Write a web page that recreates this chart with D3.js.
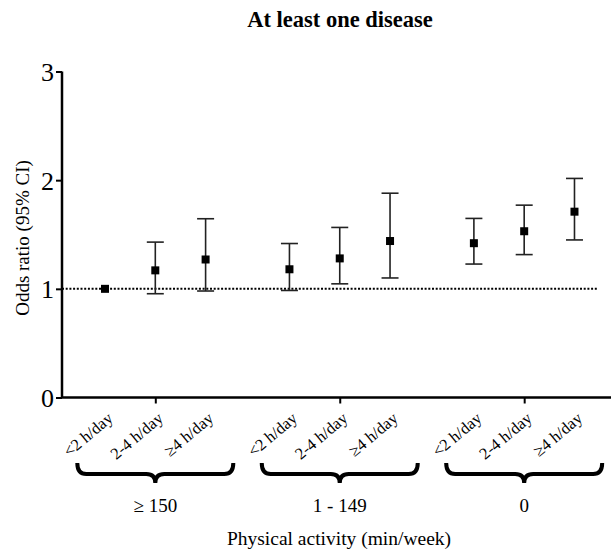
<!DOCTYPE html>
<html>
<head>
<meta charset="utf-8">
<script src="https://cdn.jsdelivr.net/npm/d3@7"></script>
<style>
  html, body { margin: 0; padding: 0; background: #fff; }
  svg { display: block; font-family: "Liberation Serif", "Times New Roman", serif; }
</style>
</head>
<body>
<div id="chart"></div>
<script>
// ---- data ----
const groups = ["≥ 150", "1 - 149", "0"];
const screenTime = ["<2 h/day", "2-4 h/day", "≥4 h/day"];
const oddsRatio = [1.00, 1.17, 1.27, 1.18, 1.28, 1.44, 1.42, 1.53, 1.71];
const ciLower   = [null, 0.955, 0.98, 0.985, 1.046, 1.10, 1.228, 1.315, 1.45];
const ciUpper   = [null, 1.43, 1.645, 1.417, 1.565, 1.88, 1.648, 1.77, 2.016];
const yTicks = [0, 1, 2, 3];
const referenceValue = 1;
const title = "At least one disease";
const yTitle = "Odds ratio (95% CI)";
const xTitle = "Physical activity (min/week)";

// ---- layout ----
const W = 611, H = 552;
const groupStep = 3.667; // slot units between groups
const svg = d3.select("#chart").append("svg").attr("width", W).attr("height", H);

const y = d3.scaleLinear().domain([0, 3]).range([397.5, 71.5]);
const x = d3.scaleLinear().domain([-0.855, 10.06]).range([62, 611]);

const pts = oddsRatio.map((v, k) => {
  const g = Math.floor(k / 3), i = k % 3;
  return { g, i, slot: g * groupStep + i, v, lo: ciLower[k], hi: ciUpper[k], label: screenTime[i] };
});

// title
svg.append("text").attr("x", 340).attr("y", 27).attr("text-anchor", "middle")
  .attr("font-weight", "bold").attr("font-size", 22.5).text(title);

// reference dotted line
svg.append("line")
  .attr("x1", x(-0.855)).attr("x2", x(9.78))
  .attr("y1", y(referenceValue)).attr("y2", y(referenceValue))
  .attr("stroke", "#000").attr("stroke-width", 2).attr("stroke-dasharray", "2,1.7");

// y axis
const yAxis = svg.append("g").attr("transform", `translate(${x(-0.855)},0)`)
  .call(d3.axisLeft(y).tickValues(yTicks).tickFormat(d3.format("d")).tickSize(6).tickPadding(2));
yAxis.select(".domain").attr("stroke-width", 2.5).attr("d", `M0,${y(3)}V${y(0)}`);
yAxis.selectAll(".tick line").attr("stroke-width", 2);
yAxis.selectAll(".tick text").attr("font-size", 26).attr("font-family", "Liberation Serif").attr("fill", "#000").attr("dy", "0.35em");

// x axis
const xAxis = svg.append("g").attr("transform", `translate(0,${y(0)})`)
  .call(d3.axisBottom(x).tickValues(groups.map((d, g) => g * groupStep + 1)).tickFormat("").tickSize(6));
xAxis.select(".domain").attr("stroke-width", 2.5).attr("d", `M${x(-0.855)},0H${W}`);
xAxis.selectAll(".tick line").attr("stroke-width", 2);

// error bars
const eb = svg.append("g").selectAll("g").data(pts.filter(d => d.lo != null)).join("g");
eb.append("line").attr("x1", d => x(d.slot)).attr("x2", d => x(d.slot))
  .attr("y1", d => y(d.lo)).attr("y2", d => y(d.hi)).attr("stroke", "#222").attr("stroke-width", 1.6);
[["lo"], ["hi"]].forEach(([k]) => {
  eb.append("line").attr("x1", d => x(d.slot) - 8.5).attr("x2", d => x(d.slot) + 8.5)
    .attr("y1", d => y(d[k])).attr("y2", d => y(d[k])).attr("stroke", "#222").attr("stroke-width", 1.6);
});

// markers
svg.append("g").selectAll("rect").data(pts).join("rect")
  .attr("x", d => x(d.slot) - 4).attr("y", d => y(d.v) - 4)
  .attr("width", 8).attr("height", 8).attr("fill", "#000");

// rotated category labels
svg.append("g").selectAll("text").data(pts).join("text")
  .attr("transform", d => `translate(${x(d.slot) + 9},${420}) rotate(-40)`)
  .attr("text-anchor", "end").attr("font-size", 16.5).text(d => d.label);

// braces
const braceG = svg.append("g");
groups.forEach((name, g) => {
  const c = x(g * groupStep + 1);
  const x0 = c - 78, x1 = c + 78, yt = 463, yb = 474, ym = 483, r = 9;
  const p = `M${x0},${yt} Q${x0},${yb} ${x0 + r},${yb} L${c - r},${yb} Q${c},${yb} ${c},${ym} Q${c},${yb} ${c + r},${yb} L${x1 - r},${yb} Q${x1},${yb} ${x1},${yt}`;
  braceG.append("path").attr("d", p).attr("fill", "none").attr("stroke", "#000")
    .attr("stroke-width", 4).attr("stroke-linecap", "butt");
  braceG.append("text").attr("x", c).attr("y", 512).attr("text-anchor", "middle")
    .attr("font-size", 19).text(name);
});

// axis titles
svg.append("text").attr("x", 339).attr("y", 545).attr("text-anchor", "middle")
  .attr("font-size", 19.5).text(xTitle);
svg.append("text").attr("transform", "translate(29,238) rotate(-90)")
  .attr("text-anchor", "middle").attr("font-size", 19).text(yTitle);
</script>
</body>
</html>
